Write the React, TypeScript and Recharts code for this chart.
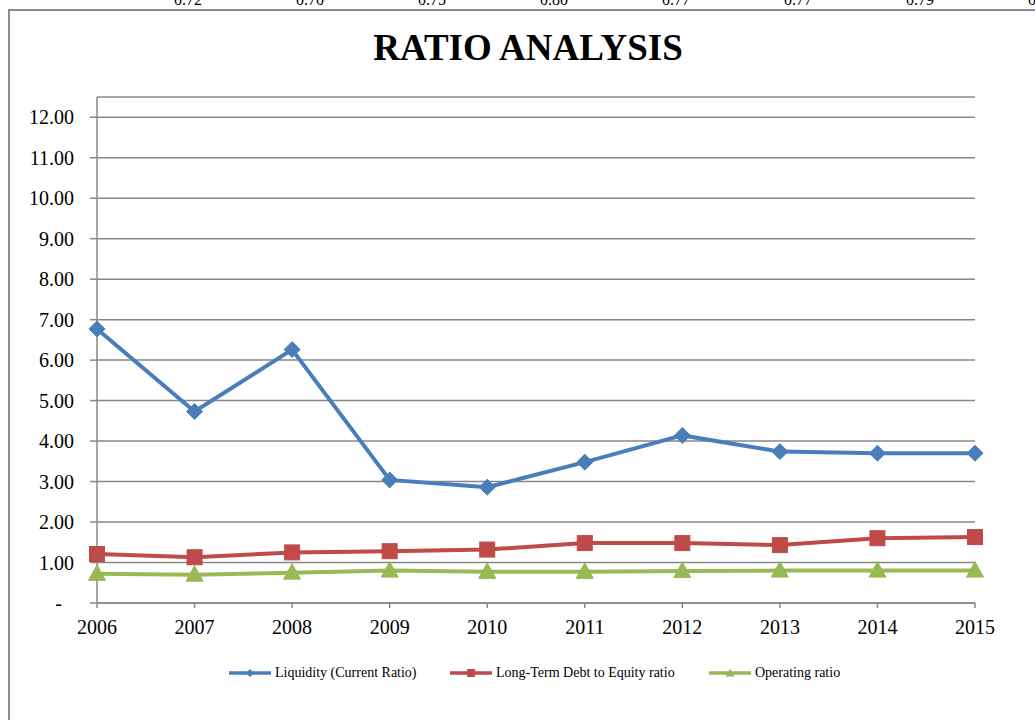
import React from 'react';
import { LineChart, Line, XAxis, YAxis, CartesianGrid } from 'recharts';

const years = ['2006', '2007', '2008', '2009', '2010', '2011', '2012', '2013', '2014', '2015'];
const liquidity = [6.77, 4.73, 6.26, 3.04, 2.86, 3.48, 4.14, 3.74, 3.70, 3.70];
const debtToEquity = [1.21, 1.13, 1.25, 1.28, 1.32, 1.48, 1.48, 1.43, 1.60, 1.63];
const operating = [0.72, 0.70, 0.75, 0.80, 0.77, 0.77, 0.79, 0.80, 0.80, 0.80];
const topRowLabels = ['0.72', '0.70', '0.75', '0.80', '0.77', '0.77', '0.79', '0.80'];
const yTicks = [0, 1, 2, 3, 4, 5, 6, 7, 8, 9, 10, 11, 12];

const seriesNames = ['Liquidity (Current Ratio)', 'Long-Term Debt to Equity ratio', 'Operating ratio'];
const colors = ['#4A7EBB', '#BE4B48', '#98B954'];

const data = years.map((y, i) => ({
  year: y,
  liquidity: liquidity[i],
  debt: debtToEquity[i],
  operating: operating[i],
}));

const FONT = '"Liberation Serif", "Times New Roman", serif';
const GRID = '#878787';

const Diamond = (props: any) => {
  const { cx, cy } = props;
  if (cx == null || cy == null) return null;
  const s = 8;
  return <path d={`M${cx},${cy - s}L${cx + s},${cy}L${cx},${cy + s}L${cx - s},${cy}Z`} fill={colors[0]} stroke={colors[0]} strokeWidth={1} />;
};
const Square = (props: any) => {
  const { cx, cy } = props;
  if (cx == null || cy == null) return null;
  const s = 7.5;
  return <rect x={cx - s} y={cy - s} width={2 * s} height={2 * s} fill={colors[1]} stroke={colors[1]} strokeWidth={1} />;
};
const Triangle = (props: any) => {
  const { cx, cy } = props;
  if (cx == null || cy == null) return null;
  return <path d={`M${cx},${cy - 9}L${cx + 8.5},${cy + 6.5}L${cx - 8.5},${cy + 6.5}Z`} fill={colors[2]} stroke={colors[2]} strokeWidth={1} />;
};

const YTick = (props: any) => {
  const { x, y, payload } = props;
  const v = payload.value as number;
  return (
    <text x={v === 0 ? x - 12 : x} y={y} dy={7} textAnchor="end" fontFamily={FONT} fontSize={20} fill="#000">
      {v === 0 ? '-' : v.toFixed(2)}
    </text>
  );
};

const XTick = (props: any) => {
  const { x, y, payload } = props;
  return (
    <text x={x} y={y} dy={14} textAnchor="middle" fontFamily={FONT} fontSize={20} fill="#000">
      {payload.value}
    </text>
  );
};

const legendPos = [229, 450, 709];

const LegendIcon = ({ idx }: { idx: number }) => {
  const c = colors[idx];
  return (
    <svg width={42} height={12} style={{ position: 'absolute', left: 0, top: -6 }}>
      <line x1={0} y1={6} x2={42} y2={6} stroke={c} strokeWidth={3.5} />
      {idx === 0 && <path d="M21,2L25,6L21,10L17,6Z" fill={c} />}
      {idx === 1 && <rect x={17} y={2} width={8} height={8} fill={c} />}
      {idx === 2 && <path d="M21,1.5L25.5,9.5L16.5,9.5Z" fill={c} />}
    </svg>
  );
};

export default function App() {
  return (
    <div style={{ position: 'absolute', left: 0, top: 0, width: 1035, height: 720, overflow: 'hidden', background: '#fff', fontFamily: FONT }}>
      {topRowLabels.map((t, i) => (
        <div key={i} style={{ position: 'absolute', left: 188 + i * 122 - 30, width: 60, top: -8, textAlign: 'center', fontSize: 16, lineHeight: '16px', color: '#000' }}>
          {t}
        </div>
      ))}
      <div style={{ position: 'absolute', left: 8, top: 9, width: 1100, height: 800, border: '2px solid #8c8c8c', boxSizing: 'border-box' }} />
      <div style={{ position: 'absolute', left: 0, top: 29, width: 1056, textAlign: 'center', fontSize: 37, lineHeight: '37px', fontWeight: 'bold', color: '#000' }}>
        RATIO ANALYSIS
      </div>
      <div style={{ position: 'absolute', left: 0, top: 0 }}>
        <LineChart width={1035} height={720} data={data} margin={{ top: 97, right: 60, bottom: 87, left: 37 }}>
          <CartesianGrid horizontal vertical={false} stroke={GRID} strokeWidth={1.5} />
          <XAxis
            dataKey="year"
            height={30}
            tickSize={5}
            tickMargin={12}
            axisLine={{ stroke: GRID, strokeWidth: 1.5 }}
            tickLine={{ stroke: GRID, strokeWidth: 1.5 }}
            tick={<XTick />}
            interval={0}
          />
          <YAxis
            width={60}
            domain={[0, 12.5]}
            ticks={yTicks}
            tickSize={7}
            tickMargin={16}
            axisLine={{ stroke: GRID, strokeWidth: 1.5 }}
            tickLine={{ stroke: GRID, strokeWidth: 1.5 }}
            tick={<YTick />}
            interval={0}
          />
          <Line dataKey="operating" name={seriesNames[2]} stroke={colors[2]} strokeWidth={4} dot={<Triangle />} activeDot={false} isAnimationActive={false} />
          <Line dataKey="debt" name={seriesNames[1]} stroke={colors[1]} strokeWidth={4} dot={<Square />} activeDot={false} isAnimationActive={false} />
          <Line dataKey="liquidity" name={seriesNames[0]} stroke={colors[0]} strokeWidth={4} dot={<Diamond />} activeDot={false} isAnimationActive={false} />
        </LineChart>
      </div>
      {seriesNames.map((n, i) => (
        <div key={i} style={{ position: 'absolute', left: legendPos[i], top: 673, height: 0 }}>
          <LegendIcon idx={i} />
          <span style={{ position: 'absolute', left: 46, top: -9, fontSize: 14, lineHeight: '17px', whiteSpace: 'nowrap', color: '#000' }}>{n}</span>
        </div>
      ))}
    </div>
  );
}
